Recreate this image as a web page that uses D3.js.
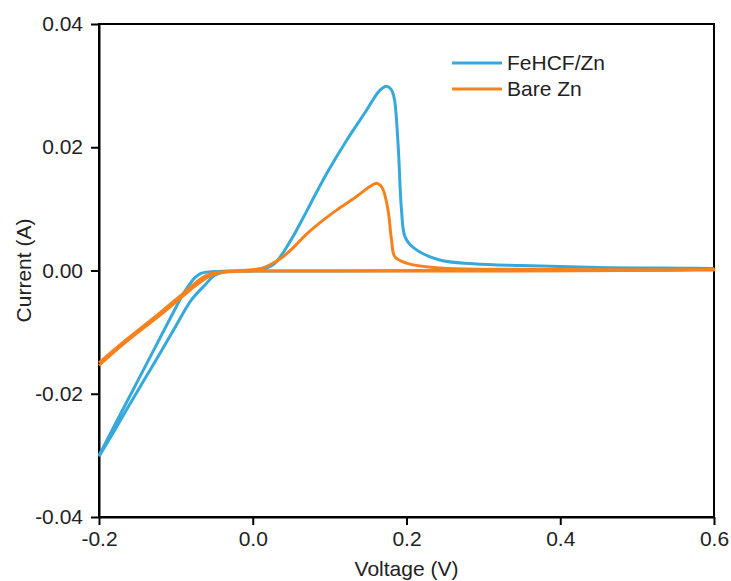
<!DOCTYPE html>
<html>
<head>
<meta charset="utf-8">
<script src="https://cdn.jsdelivr.net/npm/d3@7"></script>
<style>
  body { margin: 0; background: #fff; }
  svg { display: block; }
  .axis text { font-family: "Liberation Sans", Arial, sans-serif; font-size: 21px; fill: #222; }
  .axis path, .axis line { stroke: #000; stroke-width: 2; }
  .label { font-family: "Liberation Sans", Arial, sans-serif; font-size: 21px; fill: #222; }
</style>
</head>
<body>
<div id="chart"></div>
<script>
// CV data: [voltage (V), current (A)], in sweep order
var feVoltage = [-0.200, -0.180, -0.160, -0.140, -0.120, -0.100, -0.090, -0.082, -0.0755, -0.068,
                 -0.055, -0.030, 0.000, 0.015, 0.025, 0.032, 0.039, 0.047, 0.055, 0.070, 0.096,
                 0.122, 0.148, 0.165, 0.174, 0.180, 0.184, 0.189, 0.1935, 0.198, 0.209,
                 0.243, 0.287, 0.350, 0.450, 0.600,
                 0.550, 0.300, 0.100, 0.000, -0.036, -0.050, -0.0625, -0.080, -0.100,
                 -0.120, -0.140, -0.160, -0.180, -0.200];
var feCurrent = [-0.0300, -0.0252, -0.0204, -0.0156, -0.0108, -0.0060, -0.0037, -0.0022, -0.0012, -0.0005,
                 -0.0002, -0.0001, 0.0000, 0.0003, 0.0008, 0.0016, 0.0028, 0.0044, 0.0061, 0.0096, 0.0157,
                 0.0211, 0.0260, 0.0292, 0.0299, 0.0294, 0.0280, 0.0206, 0.0098, 0.0055, 0.0037,
                 0.0017, 0.0011, 0.0008, 0.0005, 0.0003,
                 0.0001, 0.0000, -0.0001, -0.0001, -0.0002, -0.0008, -0.0024, -0.0048, -0.0090,
                 -0.0133, -0.0175, -0.0217, -0.0260, -0.0302];

var bareVoltage = [-0.200, -0.170, -0.149, -0.120, -0.097, -0.080, -0.067, -0.055, -0.036, -0.017,
                   0.005, 0.015, 0.025, 0.039, 0.055, 0.070, 0.090, 0.109, 0.135, 0.152, 0.161,
                   0.166, 0.1696, 0.176, 0.1805, 0.185, 0.200, 0.243, 0.350, 0.600,
                   0.300, 0.000, -0.030, -0.050, -0.065, -0.080, -0.097, -0.120, -0.149,
                   -0.170, -0.200];
var bareCurrent = [-0.0150, -0.0118, -0.0097, -0.0068, -0.0044, -0.0026, -0.0013, -0.0005, -0.0002, 0.0000,
                   0.0002, 0.0005, 0.0011, 0.0022, 0.0040, 0.0059, 0.0080, 0.0098, 0.0120, 0.0136, 0.01415,
                   0.0138, 0.0131, 0.0098, 0.0050, 0.0022, 0.0012, 0.0004, 0.0002, 0.0001,
                   -0.0001, -0.0001, -0.0002, -0.0006, -0.0016, -0.0030, -0.0048, -0.0072, -0.0100,
                   -0.0121, -0.0154];

var seriesNames = ['FeHCF/Zn', 'Bare Zn'];
var seriesColors = ['#36a9dc', '#f5821f'];
var xTicks = [-0.2, 0.0, 0.2, 0.4, 0.6];
var yTicks = [-0.04, -0.02, 0.00, 0.02, 0.04];

var WIDTH = 731, HEIGHT = 581;
var margin = {left: 99, right: 17, top: 24, bottom: 64};

var svg = d3.select('#chart').append('svg')
    .attr('width', WIDTH)
    .attr('height', HEIGHT);

var x = d3.scaleLinear().domain([-0.2, 0.6])
    .range([margin.left, WIDTH - margin.right]);
var y = d3.scaleLinear().domain([-0.04, 0.04])
    .range([HEIGHT - margin.bottom, margin.top]);

// plot frame
svg.append('rect')
    .attr('x', x(-0.2))
    .attr('y', y(0.04))
    .attr('width', x(0.6) - x(-0.2))
    .attr('height', y(-0.04) - y(0.04))
    .attr('fill', 'none')
    .attr('stroke', '#000')
    .attr('stroke-width', 2);

svg.append('g')
    .attr('class', 'axis')
    .attr('transform', 'translate(0,' + y(-0.04) + ')')
    .call(d3.axisBottom(x).tickValues(xTicks).tickSize(8).tickSizeOuter(0)
        .tickPadding(6).tickFormat((d) => d.toFixed(1)));

svg.append('g')
    .attr('class', 'axis')
    .attr('transform', 'translate(' + x(-0.2) + ',0)')
    .call(d3.axisLeft(y).tickValues(yTicks).tickSize(8).tickSizeOuter(0)
        .tickPadding(8).tickFormat((d) => d.toFixed(2)));

svg.append('text')
    .attr('class', 'label')
    .attr('x', (x(-0.2) + x(0.6)) / 2)
    .attr('y', 576)
    .attr('text-anchor', 'middle')
    .text('Voltage (V)');

svg.append('text')
    .attr('class', 'label')
    .attr('transform', 'translate(31,' + (y(-0.04) + y(0.04)) / 2 + ') rotate(-90)')
    .attr('text-anchor', 'middle')
    .text('Current (A)');

var line = d3.line()
    .x((d) => x(d[0]))
    .y((d) => y(d[1]))
    .curve(d3.curveCatmullRom.alpha(0.5));

var series = [
  d3.zip(feVoltage, feCurrent),
  d3.zip(bareVoltage, bareCurrent)
];

svg.append('g').selectAll('path')
    .data(series)
    .enter().append('path')
        .attr('d', line)
        .attr('fill', 'none')
        .attr('stroke', (d, i) => seriesColors[i])
        .attr('stroke-width', 3)
        .attr('stroke-linejoin', 'round');

// legend
var legend = svg.append('g').attr('transform', 'translate(452,63)');
var items = legend.selectAll('g')
    .data(seriesNames)
    .enter().append('g')
        .attr('transform', (d, i) => 'translate(0,' + i * 26 + ')');
items.append('line')
    .attr('x1', 0).attr('x2', 50)
    .attr('stroke', (d, i) => seriesColors[i])
    .attr('stroke-width', 3);
items.append('text')
    .attr('class', 'label')
    .attr('x', 55)
    .attr('y', 7)
    .text((d) => d);
</script>
</body>
</html>
